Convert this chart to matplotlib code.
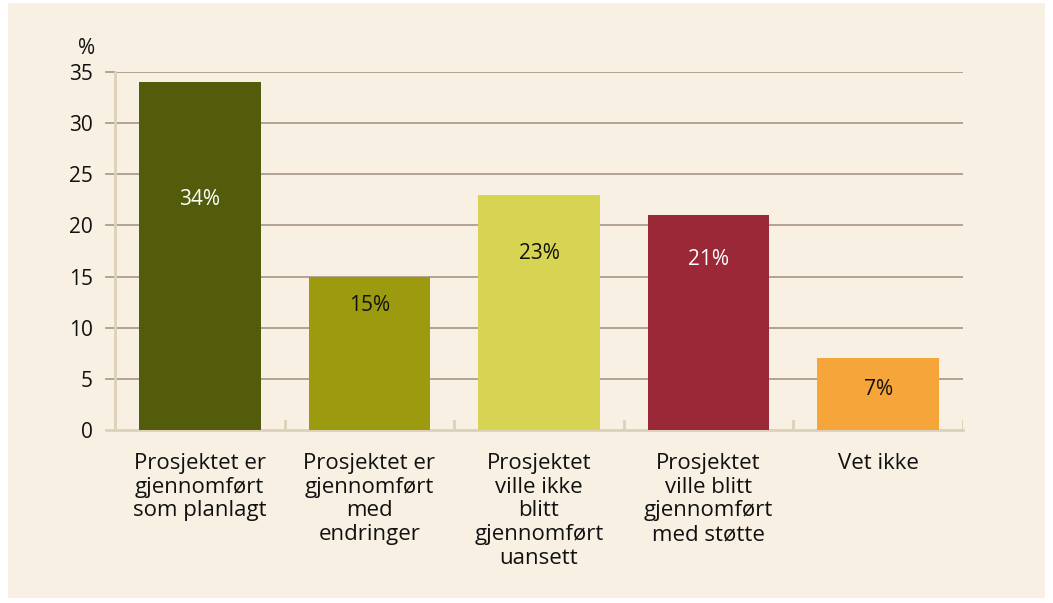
import matplotlib
matplotlib.use("Agg")
import matplotlib.pyplot as plt
from matplotlib.patches import Rectangle

categories = ["Prosjektet er\ngjennomført\nsom planlagt",
              "Prosjektet er\ngjennomført\nmed\nendringer",
              "Prosjektet\nville ikke\nblitt\ngjennomført\nuansett",
              "Prosjektet\nville blitt\ngjennomført\nmed støtte",
              "Vet ikke"]
values = [34, 15, 23, 21, 7]
value_labels = ["34%", "15%", "23%", "21%", "7%"]
label_heights = [22.5, 12.2, 17.3, 16.7, 4.0]
bar_colors = ["#525c0a", "#9c9a0e", "#d6d452", "#9a2837", "#f6a53a"]
label_colors = ["white", "#111111", "#111111", "white", "#111111"]
yticks = [0, 5, 10, 15, 20, 25, 30, 35]

plt.rcParams['font.family'] = ['Open Sans', 'DejaVu Sans']
BG = "#f8f0e2"
GRID = "#a89484"
SPINE = "#ddd0b8"

fig = plt.figure(figsize=(10.53, 6.03), dpi=100, facecolor="white")
fig.patches.append(Rectangle((8/1053, 5/603), (1045-8)/1053, (600-5)/603,
                             transform=fig.transFigure, facecolor=BG,
                             edgecolor="none", zorder=-10))
ax = fig.add_axes([115/1053, 1-430/603, (963-115)/1053, (430-72)/603])
ax.set_facecolor("none")
x = list(range(len(values)))
ax.bar(x, values, width=0.718, color=bar_colors, zorder=3)
for xi, h, t, c in zip(x, label_heights, value_labels, label_colors):
    ax.text(xi, h, t, ha="center", va="center", color=c, fontsize=15, zorder=4)

ax.set_xlim(-0.5, 4.5)
ax.set_ylim(0, 35)
ax.set_yticks(yticks)
ax.set_yticklabels([str(v) for v in yticks], fontsize=15, color="#111111")
for v in yticks[1:]:
    ax.axhline(v, color=GRID, lw=1.2, zorder=1, xmin=0, xmax=1)
    ax.plot([-0.5 - 9/170, -0.5], [v, v], color=GRID, lw=1.2, clip_on=False, zorder=1)
ax.plot([-0.5 - 9/170, 4.5], [0, 0], color=SPINE, lw=2, clip_on=False, zorder=2)
ax.tick_params(axis="y", length=0, pad=16)
ax.set_xticks(x)
ax.set_xticklabels(categories, fontsize=16, color="#111111", linespacing=1.17)
ax.tick_params(axis="x", length=0, pad=16.5)
# ticks at category boundaries pointing up
for b in [0.5, 1.5, 2.5, 3.5, 4.5]:
    ax.plot([b, b], [0, 0.9], color=SPINE, lw=2, zorder=2)
for s in ["top", "right", "bottom"]:
    ax.spines[s].set_visible(False)
ax.spines["left"].set_color(SPINE)
ax.spines["left"].set_linewidth(2)
ax.spines["left"].set_zorder(2)
ax.text(-0.5 - 20/170, 36.3, "%", ha="right", va="bottom", fontsize=15, color="#111111")

fig.savefig("out.png", dpi=100, facecolor="white")
